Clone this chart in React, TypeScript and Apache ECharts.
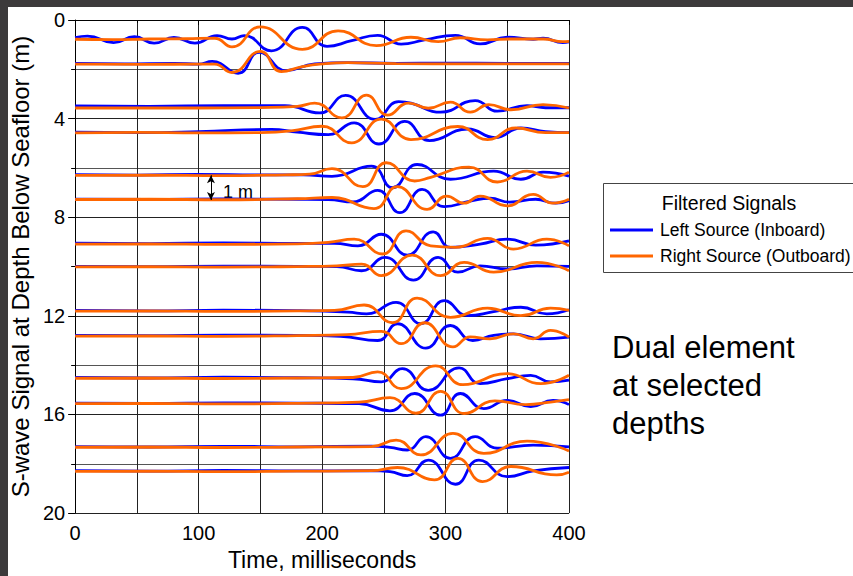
import React, { useEffect, useRef } from 'react';
import * as echarts from 'echarts';

// Time axis (ms) and depth axis (m) ranges
const X_MIN = 0;
const X_MAX = 400;
const Y_MIN = 0;
const Y_MAX = 20;

const LEFT_NAME = 'Left Source (Inboard)';
const RIGHT_NAME = 'Right Source (Outboard)';

// Each trace: [time ms, depth m] points
const B1 = [[0,0.71],[10,0.65],[31,0.92],[48,0.68],[64,0.94],[80,0.71],[97,0.94],[115,0.63],[127,0.77],[137,0.63],[159,1.25],[184,0.30],[204,1.07],[224,0.84],[245,0.62],[264,0.98],[283,0.81],[308,0.62],[328,0.97],[350,0.70],[371,0.78],[379,0.74],[395,0.92],[400,0.89]];
const O1 = [[0,0.78],[30,0.80],[60,0.77],[90,0.76],[113,0.74],[127,1.09],[150,0.28],[184,1.19],[213,0.44],[244,1.04],[272,0.70],[294,0.88],[312,0.72],[334,0.81],[352,0.77],[379,0.77],[395,0.88],[400,0.87]];
const B2 = [[0,1.76],[40,1.78],[80,1.76],[100,1.79],[111,1.68],[132,2.16],[149,1.31],[171,2.05],[194,1.78],[221,1.73],[260,1.76],[300,1.75],[350,1.76],[400,1.76]];
const O2 = [[0,1.79],[60,1.80],[100,1.79],[113,1.79],[127,2.13],[150,1.27],[167,2.09],[184,1.89],[200,1.78],[221,1.73],[260,1.77],[320,1.78],[400,1.78]];
const B3 = [[0,3.48],[60,3.50],[120,3.47],[170,3.47],[198,3.77],[219,3.06],[243,4.03],[262,3.31],[272,3.37],[296,3.74],[324,3.27],[342,3.70],[366,3.47],[381,3.56],[400,3.56]];
const O3 = [[0,3.57],[100,3.57],[150,3.55],[180,3.50],[194,3.37],[216,3.97],[236,3.05],[253,3.86],[270,3.37],[286,3.58],[304,3.33],[320,3.74],[335,3.43],[353,3.64],[379,3.43],[400,3.57]];
const B4 = [[0,4.55],[50,4.57],[100,4.53],[159,4.44],[180,4.55],[205,4.65],[226,4.17],[246,5.03],[267,4.11],[287,4.89],[318,4.42],[340,4.77],[361,4.38],[381,4.53],[400,4.57]];
const O4 = [[0,4.58],[50,4.56],[100,4.58],[150,4.57],[175,4.50],[200,4.31],[224,4.98],[248,4.02],[272,4.85],[310,4.32],[334,4.85],[357,4.38],[381,4.57],[400,4.57]];
const B5 = [[0,6.27],[50,6.29],[100,6.26],[150,6.28],[185,6.28],[208,6.34],[240,5.93],[257,6.80],[277,5.86],[304,6.46],[339,6.13],[361,6.46],[379,6.17],[400,6.33]];
const O5 = [[0,6.30],[60,6.29],[120,6.31],[170,6.28],[190,6.25],[208,6.03],[233,6.76],[252,5.79],[275,6.53],[288,6.38],[319,5.97],[342,6.57],[366,6.13],[385,6.38],[400,6.17]];
const B6 = [[0,7.27],[60,7.28],[120,7.26],[180,7.27],[205,7.28],[225,7.38],[245,6.91],[263,7.81],[281,6.87],[299,7.57],[320,7.35],[336,7.23],[352,7.39],[373,7.27],[389,7.43],[400,7.33]];
const O6 = [[0,7.28],[60,7.27],[120,7.29],[180,7.25],[208,7.20],[242,7.65],[261,6.76],[285,7.68],[301,7.14],[315,7.43],[328,7.14],[350,7.54],[371,7.07],[387,7.43],[400,7.27]];
const B7 = [[0,9.05],[60,9.07],[120,9.04],[180,9.06],[210,9.06],[229,9.16],[248,8.69],[269,9.54],[290,8.59],[304,9.22],[328,9.09],[350,8.89],[373,9.13],[400,8.96]];
const O7 = [[0,9.09],[60,9.08],[120,9.10],[180,9.08],[205,9.02],[226,8.89],[249,9.49],[268,8.55],[288,9.16],[308,9.22],[334,8.86],[355,9.29],[382,8.89],[400,9.16]];
const B8 = [[0,9.99],[60,10.00],[120,9.98],[180,9.99],[212,10.00],[232,10.17],[251,9.63],[274,10.55],[294,9.63],[310,10.23],[328,9.97],[350,10.10],[374,9.97],[400,9.99]];
const O8 = [[0,10.01],[60,10.00],[120,10.02],[180,10.00],[212,9.97],[232,9.90],[248,10.37],[273,9.54],[296,10.37],[315,9.83],[339,10.23],[374,9.83],[400,10.17]];
const B9 = [[0,11.78],[60,11.80],[120,11.77],[180,11.79],[221,11.85],[236,11.92],[260,11.45],[280,12.32],[299,11.38],[318,11.99],[339,11.83],[361,11.65],[382,11.92],[400,11.75]];
const O9 = [[0,11.81],[60,11.80],[120,11.82],[180,11.80],[210,11.78],[234,11.56],[257,12.28],[277,11.28],[304,12.06],[334,11.69],[361,11.99],[385,11.69],[400,11.78]];
const B10 = [[0,12.79],[60,12.80],[120,12.78],[180,12.79],[215,12.83],[245,13.00],[261,12.32],[284,13.31],[304,12.39],[322,13.00],[339,12.79],[355,12.73],[377,12.93],[400,12.86]];
const O10 = [[0,12.82],[60,12.81],[120,12.83],[180,12.80],[220,12.76],[248,12.63],[264,13.13],[283,12.28],[306,13.26],[320,12.85],[336,12.93],[355,12.73],[371,12.93],[385,12.59],[400,12.86]];
const B11 = [[0,14.50],[60,14.52],[120,14.49],[180,14.51],[225,14.55],[248,14.68],[265,14.14],[286,15.02],[311,14.11],[328,14.75],[350,14.55],[369,14.41],[385,14.68],[400,14.61]];
const O11 = [[0,14.53],[60,14.52],[120,14.54],[180,14.52],[225,14.50],[245,14.27],[264,14.95],[292,14.03],[314,14.79],[350,14.34],[377,14.75],[400,14.41]];
const B12 = [[0,15.54],[60,15.55],[120,15.53],[180,15.54],[230,15.56],[255,15.85],[275,15.15],[296,16.03],[312,15.15],[331,15.76],[350,15.43],[369,15.68],[387,15.43],[400,15.60]];
const O12 = [[0,15.56],[60,15.55],[120,15.57],[180,15.55],[230,15.50],[255,15.32],[276,15.95],[296,15.06],[315,15.96],[340,15.45],[365,15.60],[385,15.50],[400,15.40]];
const B13 = [[0,17.30],[60,17.32],[120,17.29],[180,17.31],[240,17.28],[255,17.33],[269,17.44],[284,16.90],[304,17.78],[324,16.90],[342,17.37],[371,17.24],[400,17.31]];
const O13 = [[0,17.33],[60,17.32],[120,17.34],[180,17.32],[240,17.30],[260,17.04],[280,17.64],[306,16.77],[331,17.58],[366,17.08],[400,17.48]];
const B14 = [[0,18.28],[60,18.30],[120,18.27],[180,18.29],[240,18.28],[255,18.32],[269,18.48],[286,17.85],[308,18.83],[327,17.85],[350,18.52],[371,18.29],[400,18.15]];
const O14 = [[0,18.31],[60,18.30],[120,18.32],[180,18.30],[240,18.28],[261,18.15],[291,18.65],[310,17.78],[330,18.72],[353,18.11],[390,18.45],[400,18.34]];

const LEFT_TRACES = [B1, B2, B3, B4, B5, B6, B7, B8, B9, B10, B11, B12, B13, B14];
const RIGHT_TRACES = [O1, O2, O3, O4, O5, O6, O7, O8, O9, O10, O11, O12, O13, O14];

// 1 m scale bar
const SCALE_BAR_TIME = 110;
const SCALE_BAR_FROM = 6.3;
const SCALE_BAR_TO = 7.3;

const FONT = "'Liberation Sans', Arial, Helvetica, sans-serif";
const BLUE = '#0000ff';
const ORANGE = '#ff6600';

export default function App() {
  const ref = useRef<HTMLDivElement>(null);

  useEffect(() => {
    if (!ref.current) return;
    const chart = echarts.init(ref.current, null, { renderer: 'svg' });

    const mk = (data: number[][], name: string, color: string, idx: number, withBar: boolean) => ({
      type: 'line',
      name,
      id: name + idx,
      data,
      smooth: 0.5,
      showSymbol: false,
      symbol: 'none',
      silent: true,
      lineStyle: { color, width: 2.8 },
      itemStyle: { color },
      z: color === ORANGE ? 4 : 3,
      markLine: withBar
        ? {
            silent: true,
            symbol: ['arrow', 'arrow'],
            symbolSize: [6, 8],
            label: { show: false },
            lineStyle: { color: '#000', width: 1, type: 'solid' },
            data: [[{ coord: [SCALE_BAR_TIME, SCALE_BAR_FROM] }, { coord: [SCALE_BAR_TIME, SCALE_BAR_TO] }]],
          }
        : undefined,
    });

    const series: any[] = [];
    LEFT_TRACES.forEach((d, i) => series.push(mk(d, LEFT_NAME, BLUE, i, i === 0)));
    RIGHT_TRACES.forEach((d, i) => series.push(mk(d, RIGHT_NAME, ORANGE, i, false)));

    chart.setOption({
      animation: false,
      backgroundColor: '#ffffff',
      textStyle: { fontFamily: FONT },
      grid: { left: 72, top: 20, width: 497, height: 495, containLabel: false },
      xAxis: {
        type: 'value',
        min: X_MIN,
        max: X_MAX,
        interval: 100,
        name: 'Time, milliseconds',
        nameLocation: 'middle',
        nameGap: 34,
        nameTextStyle: { fontSize: 23, color: '#000', fontFamily: FONT },
        axisLine: { show: true, lineStyle: { color: '#000', width: 1 } },
        axisTick: { show: true, length: 5, lineStyle: { color: '#000' } },
        minorTick: { show: true, splitNumber: 2, length: 3, lineStyle: { color: '#000' } },
        axisLabel: { fontSize: 20, color: '#000', margin: 10, fontFamily: FONT },
        splitLine: { show: true, lineStyle: { color: '#222', width: 1 } },
        minorSplitLine: { show: true, lineStyle: { color: '#222', width: 1 } },
      },
      yAxis: {
        type: 'value',
        inverse: true,
        min: Y_MIN,
        max: Y_MAX,
        interval: 4,
        name: 'S-wave Signal at Depth Below Seafloor (m)',
        nameLocation: 'middle',
        nameGap: 39,
        nameTextStyle: { fontSize: 24, color: '#000', fontFamily: FONT },
        axisLine: { show: true, lineStyle: { color: '#000', width: 1 } },
        axisTick: { show: true, length: 7, lineStyle: { color: '#000' } },
        minorTick: { show: true, splitNumber: 2, length: 4, lineStyle: { color: '#000' } },
        axisLabel: { fontSize: 20, color: '#000', margin: 10, fontFamily: FONT },
        splitLine: { show: true, lineStyle: { color: '#222', width: 1 } },
        minorSplitLine: { show: true, lineStyle: { color: '#555', width: 1 } },
      },
      legend: {
        show: true,
        orient: 'vertical',
        left: 610,
        top: 221,
        padding: 0,
        itemGap: 8,
        itemWidth: 43,
        itemHeight: 3,
        icon: 'rect',
        selectedMode: false,
        data: [
          { name: LEFT_NAME, itemStyle: { color: BLUE } },
          { name: RIGHT_NAME, itemStyle: { color: ORANGE } },
        ],
        textStyle: { fontSize: 17.5, color: '#000', fontFamily: FONT, padding: [0, 0, 0, 2] },
      },
      graphic: [
        { type: 'rect', shape: { x: 0, y: 0, width: 853, height: 7 }, style: { fill: '#3c3a3b' }, silent: true },
        { type: 'rect', shape: { x: 0, y: 0, width: 8, height: 576 }, style: { fill: '#3c3a3b' }, silent: true },
        {
          type: 'rect',
          shape: { x: 603.5, y: 183.5, width: 260, height: 89 },
          style: { fill: 'none', stroke: '#444', lineWidth: 1 },
          silent: true,
        },
        {
          type: 'text',
          x: 729,
          y: 203,
          style: { text: 'Filtered Signals', fontSize: 19.5, fontFamily: FONT, fill: '#000', align: 'center', verticalAlign: 'middle' },
          silent: true,
        },
        {
          type: 'text',
          x: 223,
          y: 192,
          style: { text: '1 m', fontSize: 18, fontFamily: FONT, fill: '#000', align: 'left', verticalAlign: 'middle' },
          silent: true,
        },
        {
          type: 'text',
          x: 612,
          y: 328,
          style: {
            text: 'Dual element\nat selected\ndepths',
            fontSize: 31,
            lineHeight: 38.3,
            fontFamily: FONT,
            fill: '#000',
            align: 'left',
            verticalAlign: 'top',
          },
          silent: true,
        },
      ],
      series,
    });

    return () => chart.dispose();
  }, []);

  return (
    <div
      ref={ref}
      style={{ position: 'fixed', left: 0, top: 0, width: 853, height: 576, background: '#fff' }}
    />
  );
}
